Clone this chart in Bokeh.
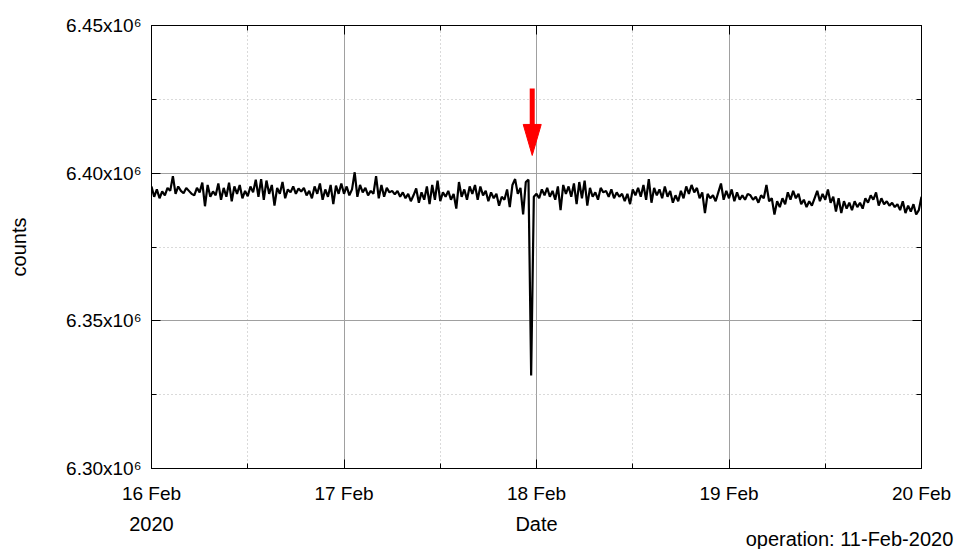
import numpy as np
import pandas as pd
from bokeh.plotting import figure
from bokeh.models import (FixedTicker, DatetimeTickFormatter, LinearAxis, DatetimeAxis, Range1d)
from bokeh.embed import file_html
from bokeh.resources import INLINE

# ---------------- data ----------------
start_time = "2020-02-16 00:00"
sample_step = "20min"
# counts in thousands, one list per day (20-minute samples)
counts_k_16feb = [
    6395.5, 6392.0, 6394.5, 6391.5, 6393.8, 6392.5, 6395.0, 6394.0, 6399.0, 6393.0,
    6395.5, 6394.0, 6393.2, 6395.0, 6394.0, 6393.0, 6392.5, 6395.0, 6393.5, 6396.8,
    6388.8, 6396.0, 6392.0, 6393.8, 6392.5, 6396.5, 6391.0, 6395.0, 6392.0, 6396.8,
    6390.5, 6395.5, 6393.0, 6396.0, 6391.5, 6394.0, 6392.2, 6395.5, 6393.5, 6397.8,
    6392.0, 6398.0, 6391.0, 6397.5, 6393.0, 6396.0, 6389.0, 6395.0, 6393.0, 6397.0,
    6391.5, 6394.5, 6393.5, 6395.5, 6393.0, 6394.8, 6393.8, 6395.0, 6392.5, 6394.0,
    6391.5, 6395.5, 6393.0, 6396.5, 6391.0, 6394.5, 6392.0, 6396.0, 6389.5, 6395.8,
    6393.0, 6396.5]
counts_k_17feb = [
    6393.0, 6395.5, 6392.5, 6394.5, 6400.3, 6392.0, 6396.0, 6393.5, 6395.0, 6392.5,
    6394.0, 6393.0, 6399.0, 6391.5, 6396.0, 6392.0, 6395.0, 6393.5, 6394.0, 6392.8,
    6394.0, 6392.0, 6393.5, 6391.5, 6393.0, 6390.5, 6392.5, 6394.8, 6390.0, 6393.5,
    6391.0, 6395.5, 6389.5, 6396.0, 6391.0, 6397.5, 6390.5, 6393.5, 6392.0, 6394.0,
    6391.0, 6393.0, 6388.0, 6397.0, 6392.0, 6394.5, 6391.0, 6395.5, 6393.0, 6396.0,
    6391.0, 6395.5, 6392.5, 6394.0, 6390.5, 6393.5, 6391.5, 6393.0, 6389.0, 6392.0,
    6391.0, 6394.5, 6388.5, 6396.0, 6398.0, 6393.0, 6395.0, 6386.0, 6397.0, 6397.8,
    6331.5, 6392.0]
counts_k_18feb = [
    6393.0, 6391.5, 6394.5, 6392.5, 6395.0, 6392.0, 6394.0, 6391.0, 6395.5, 6387.5,
    6396.0, 6393.0, 6395.5, 6392.0, 6396.5, 6389.5, 6397.0, 6391.5, 6397.5, 6389.0,
    6395.0, 6392.0, 6393.5, 6391.0, 6395.0, 6393.5, 6394.0, 6392.0, 6394.5, 6391.5,
    6393.5, 6392.0, 6393.0, 6390.5, 6393.0, 6389.5, 6394.5, 6392.5, 6395.0, 6392.0,
    6396.0, 6391.0, 6398.0, 6390.0, 6395.0, 6392.5, 6394.5, 6391.5, 6395.5, 6392.0,
    6394.0, 6390.0, 6392.5, 6390.5, 6394.0, 6391.5, 6395.5, 6393.0, 6396.0, 6393.5,
    6395.0, 6391.5, 6393.5, 6386.5, 6393.0, 6391.5, 6392.5, 6390.5, 6393.5, 6396.5,
    6391.0, 6394.0]
counts_k_19feb = [
    6391.5, 6394.5, 6390.5, 6393.5, 6391.0, 6392.5, 6391.0, 6393.0, 6392.5, 6391.0,
    6392.0, 6390.0, 6392.5, 6391.5, 6396.0, 6390.5, 6391.5, 6386.0, 6390.5, 6388.5,
    6391.5, 6389.5, 6393.5, 6391.0, 6394.0, 6391.5, 6393.0, 6389.5, 6391.0, 6388.5,
    6390.5, 6389.0, 6391.5, 6394.0, 6390.5, 6393.0, 6391.0, 6394.5, 6390.0, 6392.0,
    6387.0, 6391.5, 6386.5, 6390.5, 6388.0, 6390.0, 6387.5, 6390.5, 6388.5, 6390.0,
    6388.0, 6391.5, 6390.0, 6392.5, 6391.0, 6393.5, 6389.0, 6391.5, 6389.5, 6390.5,
    6389.0, 6390.0, 6388.5, 6389.5, 6387.5, 6390.5, 6386.5, 6389.0, 6387.0, 6389.5,
    6386.0, 6387.5, 6392.0]

x_tick_dates = ["2020-02-16", "2020-02-17", "2020-02-18", "2020-02-19", "2020-02-20"]
x_minor_dates = ["2020-02-16 12:00", "2020-02-17 12:00", "2020-02-18 12:00", "2020-02-19 12:00"]
y_tick_values = [6.30e6, 6.35e6, 6.40e6, 6.45e6]
y_tick_labels = ["6.30x10\u2076", "6.35x10\u2076", "6.40x10\u2076", "6.45x10\u2076"]
y_minor_values = [6.325e6, 6.375e6, 6.425e6]
year_label = "2020"
x_title = "Date"
y_title = "counts"
note_text = "operation: 11-Feb-2020"

arrow_time = "2020-02-17 23:28"
arrow_top = 6.4287e6
arrow_tip = 6.4060e6

# ---------------- build ----------------
counts = np.array(counts_k_16feb + counts_k_17feb + counts_k_18feb + counts_k_19feb) * 1000.0
times = pd.date_range(start_time, periods=len(counts), freq=sample_step)

def ms(t):
    return pd.Timestamp(t).value / 1e6

x0, x1 = ms(x_tick_dates[0]), ms(x_tick_dates[-1])
y0, y1 = y_tick_values[0], y_tick_values[-1]

FW, FH = 770, 443
FONT = "Liberation Sans"

p = figure(frame_width=FW, frame_height=FH, output_backend="svg", toolbar_location=None,
           x_axis_type="datetime", x_range=Range1d(x0, x1), y_range=Range1d(y0, y1),
           min_border_left=151, min_border_right=45, min_border_top=25, min_border_bottom=81)
p.background_fill_color = "white"
p.border_fill_color = "white"
p.outline_line_color = "black"
p.outline_line_width = 1

x_major_ms = [ms(t) for t in x_tick_dates]
xticker = FixedTicker(ticks=x_major_ms, minor_ticks=[ms(t) for t in x_minor_dates])
yticker = FixedTicker(ticks=y_tick_values, minor_ticks=y_minor_values)
fmt = DatetimeTickFormatter(days="%d %b", months="%d %b", hours="%d %b", hourmin="%d %b",
                            minutes="%d %b", years="%d %b")

def style_axis(ax):
    ax.axis_line_color = "black"
    ax.major_tick_line_color = "black"
    ax.minor_tick_line_color = "black"
    ax.major_tick_in = 9
    ax.major_tick_out = 0
    ax.minor_tick_in = 5
    ax.minor_tick_out = 0

xa = p.xaxis[0]
xa.ticker = xticker
xa.formatter = fmt
style_axis(xa)
xa.major_label_text_font = FONT
xa.major_label_text_font_size = "19px"
xa.major_label_text_color = "black"
xa.major_label_standoff = 14

ya = p.yaxis[0]
ya.ticker = yticker
style_axis(ya)
ya.major_label_overrides = dict(zip(y_tick_values, y_tick_labels))
ya.major_label_text_font = FONT
ya.major_label_text_font_size = "19px"
ya.major_label_text_color = "black"
ya.major_label_standoff = 10
ya.axis_label = y_title
ya.axis_label_text_font = FONT
ya.axis_label_text_font_style = "normal"
ya.axis_label_text_font_size = "20px"
ya.axis_label_text_color = "black"
ya.axis_label_standoff = 33

top = DatetimeAxis(ticker=xticker, formatter=fmt)
style_axis(top)
top.major_label_overrides = {v: "" for v in x_major_ms}
top.major_label_text_color = None
p.add_layout(top, "above")
right = LinearAxis(ticker=yticker)
style_axis(right)
right.major_label_overrides = {v: "" for v in y_tick_values}
right.major_label_text_color = None
p.add_layout(right, "right")

# second text row below the date axis: year, axis title, operation note
p.extra_x_ranges = {"text_row": Range1d(0, FW)}
row_positions = [0, FW / 2, 698]
row_texts = [year_label, x_title, "\n" + note_text]
row = LinearAxis(x_range_name="text_row", ticker=FixedTicker(ticks=row_positions, minor_ticks=[]))
row.major_label_overrides = dict(zip(row_positions, row_texts))
row.axis_line_color = None
row.major_tick_line_color = None
row.minor_tick_line_color = None
row.major_tick_in = 0
row.major_tick_out = 0
row.major_label_standoff = 6
row.major_label_text_font = FONT
row.major_label_text_font_size = "20px"
row.major_label_text_color = "black"
row.major_label_text_line_height = 0.7
p.add_layout(row, "below")

p.xgrid.ticker = xticker
p.ygrid.ticker = yticker
for g in (p.xgrid[0], p.ygrid[0]):
    g.grid_line_color = "#a0a0a0"
    g.grid_line_width = 1
    g.minor_grid_line_color = "#b4b4b4"
    g.minor_grid_line_dash = "1 3"
    g.minor_grid_line_width = 1

p.line(times, counts, line_color="black", line_width=2.2)

# arrow
ms_per_px = (x1 - x0) / FW
cnt_per_px = (y1 - y0) / FH
head_len = 31 * cnt_per_px
head_half = 9 * ms_per_px
ax_ms = ms(arrow_time)
p.segment(x0=[ax_ms], y0=[arrow_top], x1=[ax_ms], y1=[arrow_tip + head_len * 0.9],
          line_color="#ff0000", line_width=5)
p.patch([ax_ms - head_half, ax_ms + head_half, ax_ms],
        [arrow_tip + head_len, arrow_tip + head_len, arrow_tip],
        fill_color="#ff0000", line_color="#ff0000", line_width=1)

open("out.html", "w").write(file_html(p, INLINE))
